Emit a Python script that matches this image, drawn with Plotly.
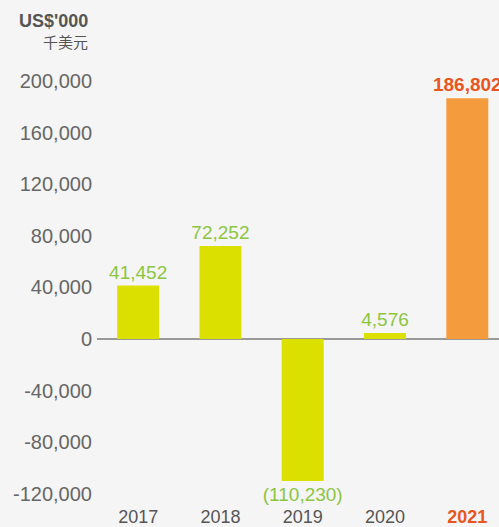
import plotly.graph_objects as go

years = ["2017", "2018", "2019", "2020", "2021"]
values = [41452, 72252, -110230, 4576, 186802]
bar_colors = ["#dbe000", "#dbe000", "#dbe000", "#dbe000", "#f39b3d"]
label_colors = ["#8cc63f", "#8cc63f", "#8cc63f", "#8cc63f", "#e9551f"]
tick_vals = [-120000, -80000, -40000, 0, 40000, 80000, 120000, 160000, 200000]
tick_text = [f"{v:,}" for v in tick_vals]

labels = []
for v, c in zip(values, label_colors):
    s = f"{v:,}" if v >= 0 else f"({-v:,})"
    if c == "#e9551f":
        s = f"<b>{s}</b>"
    labels.append(s)

x_ticktext = [y if i < 4 else f"<b><span style='color:#e9551f'>{y}</span></b>" for i, y in enumerate(years)]

FONT = "Liberation Sans"
W, H = 499, 527
ML, MR, MT, MB = 97, 0, 62, 27
fig = go.Figure()
fig.add_trace(go.Bar(
    x=years, y=values, marker=dict(color=bar_colors, line=dict(width=0)),
    width=0.51, text=labels, textposition="outside", constraintext="none",
    textfont=dict(color=label_colors, size=19, family=FONT),
    cliponaxis=False, hoverinfo="skip",
))
fig.update_layout(
    width=W, height=H,
    margin=dict(l=ML, r=MR, t=MT, b=MB, autoexpand=False),
    paper_bgcolor="#f5f5f5", plot_bgcolor="#f5f5f5",
    showlegend=False,
    font=dict(family=FONT),
    xaxis=dict(range=[-0.5, 4.385], showgrid=False, showline=False, ticks="",
               tickmode="array", tickvals=years, ticktext=x_ticktext,
               tickfont=dict(size=18, color="#555555"), ticklabelstandoff=4),
    yaxis=dict(range=[-125000, 215000], showgrid=False, zeroline=True,
               zerolinecolor="#999999", zerolinewidth=2,
               tickmode="array", tickvals=tick_vals, ticktext=tick_text,
               tickfont=dict(size=20, color="#666666"), ticks="", ticklabelstandoff=4),
)

pw = W - ML - MR
ph = H - MT - MB
def px_to_paper(x, y):
    return (x - ML) / pw, (H - y - MB) / ph

ax, ay = px_to_paper(90, 21)
bx, by = px_to_paper(90, 42)
fig.add_annotation(text="<b>US$'000</b>", x=ax, y=ay, xref="paper", yref="paper",
                   showarrow=False, xanchor="right", yanchor="middle",
                   font=dict(size=18, color="#555555", family=FONT))
fig.add_annotation(text="千美元", x=bx, y=by, xref="paper", yref="paper",
                   showarrow=False, xanchor="right", yanchor="middle",
                   font=dict(size=15, color="#555555", family="Noto Sans CJK SC"))

fig.write_html("out.html", config={"displayModeBar": False},
               post_script="document.body.style.margin='0';document.body.style.overflow='hidden';")
